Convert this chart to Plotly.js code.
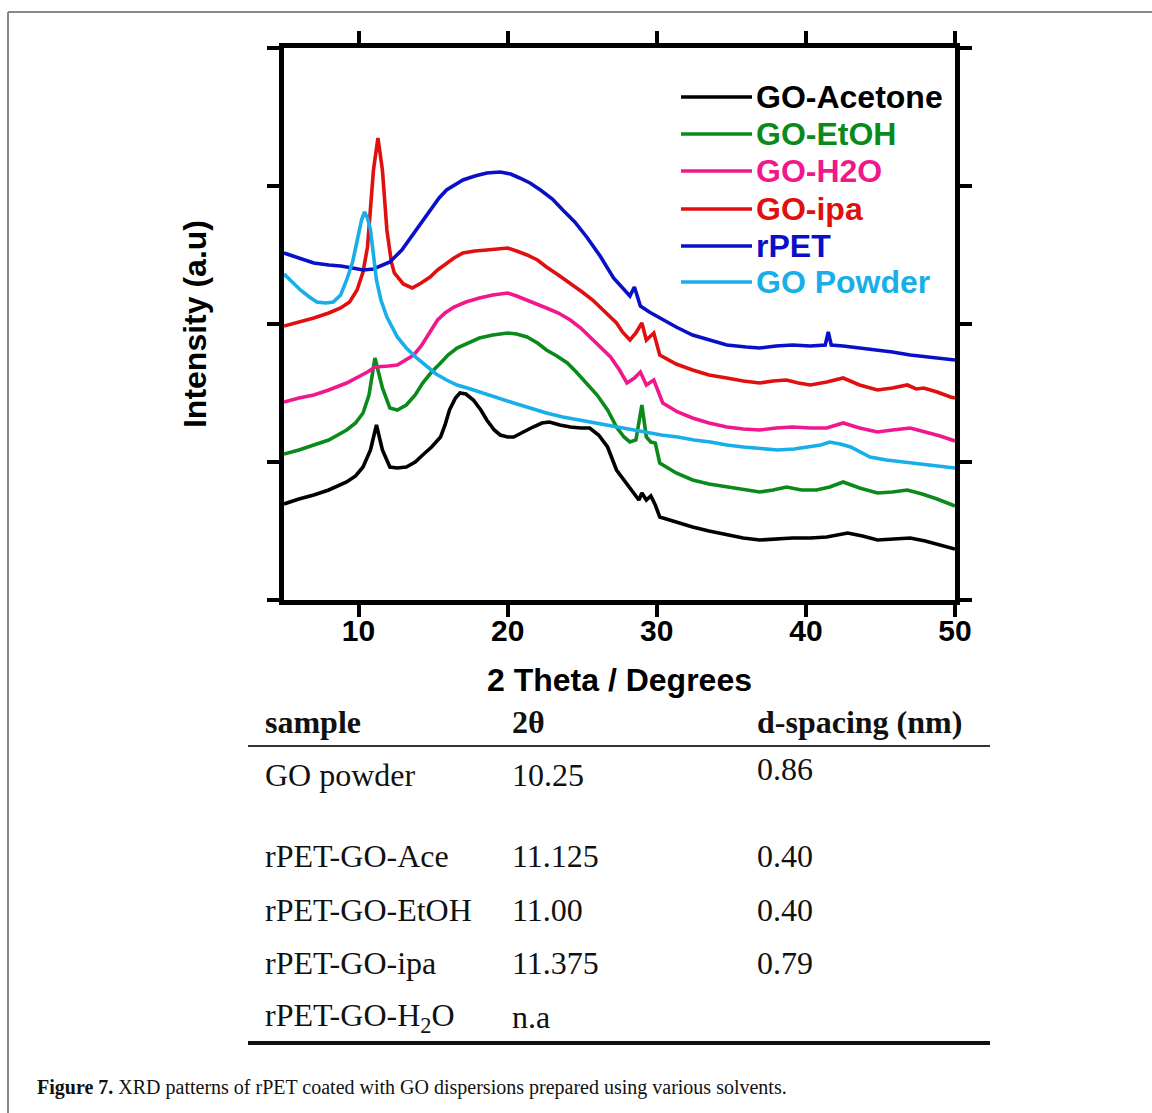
<!DOCTYPE html>
<html>
<head>
<meta charset="utf-8">
<script src="https://cdn.plot.ly/plotly-3.0.1.min.js"></script>
<style>
  html, body { margin: 0; padding: 0; background: #ffffff; }
  #chart { width: 1152px; height: 1113px; }
</style>
</head>
<body>
<div id="chart"></div>
<script>
// ---------------- DATA ----------------
const seriesNames = ["GO-Acetone", "GO-EtOH", "GO-H2O", "GO-ipa", "rPET", "GO Powder"];

const acetoneX = [5.0,6.0,7.0,8.0,9.2,9.8,10.3,10.8,11.2,11.4,11.6,12.1,12.6,13.2,13.8,14.3,14.9,15.5,15.8,16.1,16.5,16.8,17.2,17.7,18.2,18.6,19.1,19.5,20.0,20.4,21.0,21.7,22.3,22.8,23.5,24.2,24.9,25.5,26.1,26.7,27.3,27.8,28.2,28.6,28.8,29.0,29.3,29.6,29.9,30.2,31.3,32.4,33.5,34.7,35.8,36.9,38.0,39.1,40.3,41.4,42.8,43.8,44.8,45.9,47.0,48.0,49.0,50.0];
const acetoneY = [96,101,105,110,118,124,133,150,175,163,150,133,132,133,138,145,153,163,175,190,202,207,206,200,190,180,170,165,163,163,168,173,177,178,175,173,172,172,165,153,130,120,113,105,100,107,100,104,95,83,78,73,69,65,62,60,61,62,62,63,67,64,60,61,62,59,55,51];

const etohX = [5.0,6.0,7.0,8.0,9.2,9.8,10.3,10.7,11.1,11.4,11.6,12.1,12.6,13.2,13.8,14.3,14.9,15.5,16.0,16.6,17.3,18.1,19.0,20.0,20.6,21.3,22.0,22.6,23.3,24.0,24.6,25.3,26.0,26.7,27.3,27.8,28.2,28.6,29.0,29.3,29.6,29.9,30.2,31.3,32.4,33.5,34.7,35.8,36.9,37.8,38.7,39.7,40.7,41.6,42.5,43.6,44.8,45.8,46.8,47.8,48.8,50.0];
const etohY = [146,150,155,160,170,177,187,205,242,225,212,192,190,195,205,217,228,237,245,252,257,262,265,267,266,263,257,250,244,237,228,217,205,190,173,163,158,160,195,163,158,157,137,127,120,116,113,110,108,110,113,110,110,113,118,112,107,108,110,106,101,94];

const h2oX = [5.0,6.0,7.0,8.0,9.2,10.0,10.6,11.1,11.6,12.0,12.6,13.2,13.7,14.2,14.6,15.3,15.8,16.4,17.2,18.1,19.0,20.0,20.6,21.3,22.0,22.6,23.4,24.2,24.9,25.5,26.2,26.9,27.5,28.0,28.5,28.9,29.3,29.8,30.4,31.4,32.4,33.5,34.7,35.8,36.9,38.0,39.1,40.3,41.4,42.5,43.6,44.8,45.8,47.0,48.0,49.0,50.0];
const h2oY = [198,202,205,210,217,223,228,233,234,234,235,240,245,254,263,280,287,293,298,302,305,307,304,300,296,292,287,280,272,263,253,243,230,217,222,228,215,220,197,188,182,177,173,171,170,172,173,172,172,177,172,168,170,172,168,164,159];

const ipaX = [5.0,6.0,7.0,8.0,8.8,9.4,9.9,10.3,10.6,11.0,11.3,11.6,11.9,12.2,12.4,13.0,13.6,14.2,14.8,15.3,15.9,16.4,17.0,17.8,18.6,19.3,20.0,20.6,21.3,22.0,22.6,23.4,24.2,25.0,25.7,26.5,27.3,27.7,28.2,28.6,29.0,29.3,29.6,29.8,30.2,31.3,32.4,33.5,34.7,35.8,36.9,37.8,38.7,39.5,40.3,41.4,42.5,43.6,44.8,45.8,46.8,47.4,47.9,48.8,49.7,50.0];
const ipaY = [274,278,282,287,292,298,310,328,353,430,462,430,370,338,327,316,312,317,323,330,337,342,347,349,350,351,352,349,345,340,333,325,317,308,300,288,277,268,260,267,277,260,265,267,245,236,230,225,222,219,217,219,220,217,215,218,222,215,210,212,215,211,212,208,203,202];

const rpetX = [5.0,6.0,7.0,8.0,8.8,9.6,10.3,11.0,12.1,12.9,13.7,14.3,14.8,15.4,15.9,16.5,17.0,17.8,18.6,19.5,20.2,20.8,21.5,22.2,23.0,23.7,24.5,25.3,26.2,27.1,27.8,28.2,28.5,28.9,29.5,30.2,31.3,32.4,33.5,34.7,36.0,36.9,38.0,39.1,40.3,41.3,41.5,41.7,42.5,43.6,44.8,45.8,47.0,48.1,49.0,50.0];
const rpetY = [347,342,337,335,334,332,330,331,338,350,367,380,390,402,410,416,420,424,427,428,426,422,417,410,401,390,378,363,344,322,310,304,313,294,288,282,273,265,260,255,253,252,254,255,254,255,268,255,254,252,250,248,245,243,242,240];

const powderX = [5.0,5.6,6.1,6.7,7.2,7.8,8.3,8.8,9.2,9.6,9.9,10.2,10.4,10.6,10.8,11.0,11.2,11.5,11.9,12.6,13.2,13.9,14.6,15.2,15.9,16.6,17.3,18.3,19.3,20.4,21.5,22.6,23.7,24.8,26.0,27.5,29.1,30.3,31.4,32.5,33.6,34.7,35.8,37.0,38.1,39.2,40.3,41.0,41.6,42.3,43.0,43.7,44.3,45.4,46.5,48.0,50.0];
const powderY = [326,317,310,303,298,297,298,305,320,338,360,380,388,382,370,345,320,300,283,263,252,242,233,226,220,215,212,207,202,197,192,187,183,180,177,172,168,165,163,160,158,155,153,151,150,151,153,155,158,156,153,148,143,140,138,135,132];

const xTickVals = [10, 20, 30, 40, 50];
const yTickVals = [0, 138, 276, 414, 552];

const tableHeader = ["sample", "2θ", "d-spacing (nm)"];
const tableSamples = ["GO powder", "rPET-GO-Ace", "rPET-GO-EtOH", "rPET-GO-ipa", "rPET-GO-H<sub>2</sub>O"];
const tableTheta = ["10.25", "11.125", "11.00", "11.375", "n.a"];
const tableD = ["0.86", "0.40", "0.40", "0.79", ""];

const captionBold = "Figure 7.";
const captionText = " XRD patterns of rPET coated with GO dispersions prepared using various solvents.";

// ---------------- STYLE / LAYOUT ----------------
const colors = ["#000000", "#0b8a1c", "#f0188c", "#e01010", "#0a10c8", "#18aee8"];
const xs = [acetoneX, etohX, h2oX, ipaX, rpetX, powderX];
const ys = [acetoneY, etohY, h2oY, ipaY, rpetY, powderY];

const W = 1152, H = 1113;
const PL = 284, PR = 955, PT = 48, PB = 600;
const fx = p => (p - PL) / (PR - PL);
const fy = p => (PB - p) / (PB - PT);

const sansB = "Liberation Sans, Arial, sans-serif";
const serif = "Liberation Serif, Times New Roman, serif";

const traces = seriesNames.map((n, i) => ({
  x: xs[i], y: ys[i], name: n, type: "scatter", mode: "lines",
  line: { color: colors[i], width: 3.6 }, showlegend: false
}));

const shapes = [];
const annotations = [];

// outer figure border
shapes.push({ type: "line", xref: "paper", yref: "paper", x0: fx(8), x1: fx(1152), y0: fy(12), y1: fy(12), line: { color: "#888888", width: 2 } });
shapes.push({ type: "line", xref: "paper", yref: "paper", x0: fx(8), x1: fx(8), y0: fy(12), y1: fy(1113), line: { color: "#888888", width: 2 } });

// legend
const legY = [97, 134, 171, 209, 246, 282];
seriesNames.forEach((n, i) => {
  shapes.push({ type: "line", xref: "paper", yref: "paper", x0: fx(681), x1: fx(752), y0: fy(legY[i]), y1: fy(legY[i]), line: { color: colors[i], width: 3.6 } });
  annotations.push({ xref: "paper", yref: "paper", x: fx(754), y: fy(legY[i]), xanchor: "left", yanchor: "middle", showarrow: false, text: "<b>" + n + "</b>", font: { family: sansB, size: 32, color: colors[i] } });
});

// table
const colX = [263, 510, 755];
tableHeader.forEach((t, j) => {
  annotations.push({ xref: "paper", yref: "paper", x: fx(colX[j]), y: fy(722), xanchor: "left", yanchor: "middle", showarrow: false, text: "<b>" + t + "</b>", font: { family: serif, size: 32, color: "#111111" } });
});
shapes.push({ type: "line", xref: "paper", yref: "paper", x0: fx(248), x1: fx(990), y0: fy(746), y1: fy(746), line: { color: "#333333", width: 2 } });
const rowY = [775, 856, 910, 963, 1017];
tableSamples.forEach((s, r) => {
  const cells = [s, tableTheta[r], tableD[r]];
  cells.forEach((c, j) => {
    if (!c) return;
    const yy = (r === 0 && j === 2) ? rowY[r] - 6 : rowY[r];
    annotations.push({ xref: "paper", yref: "paper", x: fx(colX[j]), y: fy(yy), xanchor: "left", yanchor: "middle", showarrow: false, text: c, font: { family: serif, size: 32, color: "#111111" } });
  });
});
shapes.push({ type: "line", xref: "paper", yref: "paper", x0: fx(248), x1: fx(990), y0: fy(1043), y1: fy(1043), line: { color: "#111111", width: 4 } });

// caption
annotations.push({ xref: "paper", yref: "paper", x: fx(35), y: fy(1087), xanchor: "left", yanchor: "middle", showarrow: false, text: "<b>" + captionBold + "</b>" + captionText, font: { family: serif, size: 20, color: "#111111" } });

const axisCommon = {
  showline: true, linecolor: "#000000", linewidth: 5, mirror: "ticks",
  ticks: "outside", ticklen: 12, tickwidth: 4, tickcolor: "#000000",
  showgrid: false, zeroline: false, automargin: false, fixedrange: true
};

const layout = {
  width: W, height: H,
  margin: { l: PL, r: W - PR, t: PT, b: H - PB, pad: 0 },
  paper_bgcolor: "#ffffff", plot_bgcolor: "#ffffff",
  showlegend: false,
  xaxis: Object.assign({}, axisCommon, {
    range: [5, 50], tickmode: "array", tickvals: xTickVals, ticktext: xTickVals.map(String),
    ticklabelstandoff: -12,
    tickfont: { family: sansB, size: 30, color: "#000000", weight: "bold" },
    title: { text: "<b>2 Theta / Degrees</b>", font: { family: sansB, size: 32, color: "#000000" }, standoff: 24 }
  }),
  yaxis: Object.assign({}, axisCommon, {
    range: [0, 552], tickmode: "array", tickvals: yTickVals, showticklabels: false,
    title: { text: "<b>Intensity (a.u)</b>", font: { family: sansB, size: 32, color: "#000000" }, standoff: 52 }
  }),
  shapes: shapes,
  annotations: annotations
};

Plotly.newPlot("chart", traces, layout, { displayModeBar: false, staticPlot: true });
</script>
</body>
</html>
